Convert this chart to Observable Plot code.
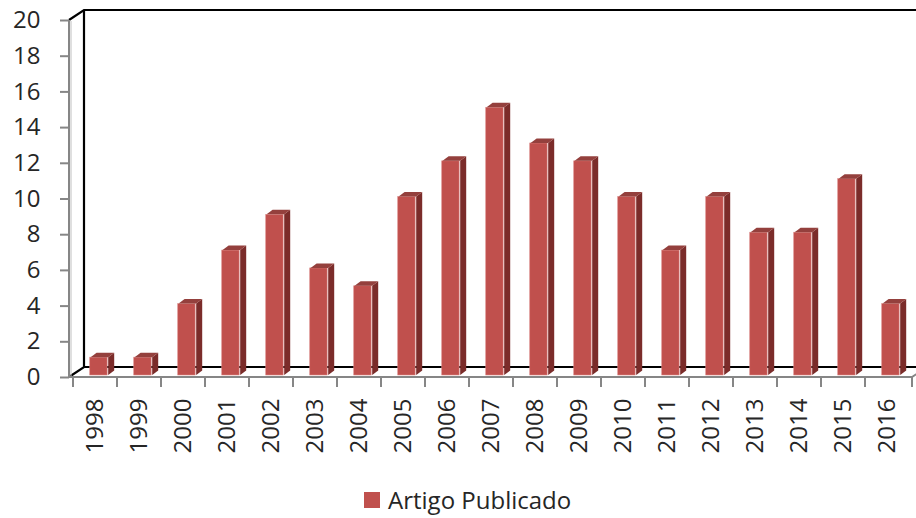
<!DOCTYPE html>
<html><head><meta charset="utf-8">
<script src="https://cdn.jsdelivr.net/npm/d3@7"></script>
<script src="https://cdn.jsdelivr.net/npm/@observablehq/plot@0.6"></script>
<style>
body{margin:0;background:#fff;font-family:"Open Sans",sans-serif;overflow:hidden}
#chart{position:absolute;left:0;top:0;}
#legend{position:absolute;left:364px;top:486px;height:28px;line-height:28px;display:flex;align-items:center;font-size:24px;color:#262626;font-family:"Open Sans",sans-serif;white-space:nowrap}
#legend .sw{width:16px;height:16px;background:#C0504D;margin-right:8px;display:inline-block}
</style></head><body>
<div id="chart"></div>
<div id="legend"><span class="sw"></span><span id="legtext"></span></div>
<script>
const years = ["1998","1999","2000","2001","2002","2003","2004","2005","2006","2007","2008","2009","2010","2011","2012","2013","2014","2015","2016"];
const articles = [1,1,4,7,9,6,5,10,12,15,13,12,10,7,10,8,8,11,4];
const yTicks = [0,2,4,6,8,10,12,14,16,18,20];
const seriesName = "Artigo Publicado";

const data = years.map((year, i) => ({year, value: articles[i]}));
document.getElementById("legtext").textContent = seriesName;

const W = 916, H = 480;
const mL = 69, mR = 4, mT = 20, mB = 103;
const step = (W - mL - mR) / years.length;
const DX = 15, DY = -10;      // wall depth
const bdx = 6, bdy = -4.5;    // bar depth
const lift = 2;               // bars sit slightly behind front floor edge

function walls(index, {x, y}) {
  const g = d3.create("svg:g").attr("fill", "none");
  const [x0, x1] = x.range();
  const y0 = y(0), yt = y(20);
  g.append("path").attr("stroke", "#000").attr("stroke-width", 2.2)
    .attr("d", `M${x0},${yt}L${x0+DX},${yt+DY}H${W+2}M${x0},${y0}L${x0+DX},${y0+DY}H${W+2}M${x0+DX},${yt+DY}V${y0+DY}`);
  g.append("path").attr("stroke", "#bfbfbf").attr("stroke-width", 1)
    .attr("d", `M${x0+2},${yt+1}V${y0-1}`);
  g.append("path").attr("stroke", "#868686").attr("stroke-width", 2)
    .attr("d", `M${x0},${yt}V${y0}H${x1}L${x1+DX*0.5},${y0+DY*0.5}`);
  return g.node();
}

function bandTicks(index, {x, y}) {
  const g = d3.create("svg:g").attr("stroke", "#868686").attr("stroke-width", 2);
  const y0 = y(0);
  const bounds = years.map(d => x(d)).concat([x.range()[1]]);
  for (const bx of bounds) g.append("line").attr("x1", bx).attr("x2", bx).attr("y1", y0).attr("y2", y0 + 10);
  return g.node();
}

function barDepth(index, {x, y}) {
  const g = d3.create("svg:g");
  for (const d of data) {
    const fx = x(d.year) + 0.4 * x.bandwidth();
    const fw = 0.4 * x.bandwidth();
    const top = y(d.value) - lift, bot = y(0) - lift;
    g.append("path").attr("fill", "#7B2C2A")
      .attr("d", `M${fx+fw},${top}L${fx+fw+bdx},${top+bdy}V${bot+bdy}L${fx+fw},${bot}Z`);
    g.append("path").attr("fill", "#94403D")
      .attr("d", `M${fx},${top}L${fx+bdx},${top+bdy}H${fx+fw+bdx}L${fx+fw},${top}Z`);
  }
  return g.node();
}

const chart = Plot.plot({
  width: W, height: H,
  marginLeft: mL, marginRight: mR, marginTop: mT, marginBottom: mB,
  style: {fontFamily: "'Open Sans', sans-serif", fontSize: "24px", color: "#262626", background: "#fff"},
  x: {type: "band", domain: years, padding: 0, label: null},
  y: {domain: [0, 20], label: null},
  marks: [
    walls,
    Plot.barY(data, {x: "year", y: "value", fill: "#C0504D", stroke: "#d98683", strokeWidth: 0.6,
      insetLeft: 0.4 * step - 1, insetRight: 0.2 * step + 1, dy: -lift}),
    barDepth,
    Plot.axisY({ticks: yTicks, tickSize: 9, tickPadding: 20, stroke: "#868686", strokeWidth: 2, fill: "#262626", fontSize: 24, label: null, tickFormat: d => String(d)}),
    Plot.axisX({tickSize: 0, tickPadding: 21, tickRotate: -90, fill: "#262626", fontSize: 24, label: null}),
    bandTicks
  ]
});
document.getElementById("chart").appendChild(chart);
</script>
</body></html>
